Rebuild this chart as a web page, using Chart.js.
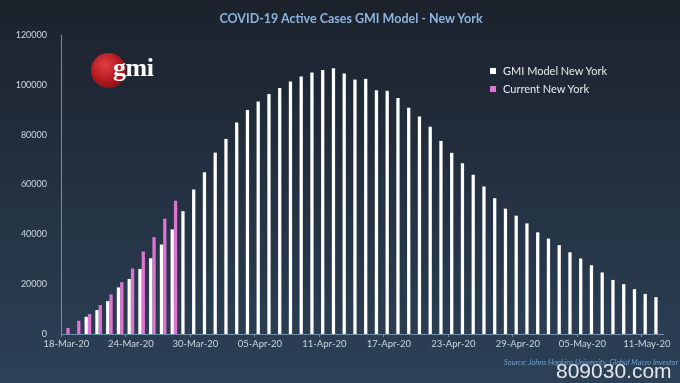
<!DOCTYPE html>
<html><head><meta charset="utf-8">
<script src="https://cdn.jsdelivr.net/npm/chart.js@4/dist/chart.umd.min.js"></script>
<style>
html,body{margin:0;padding:0;width:680px;height:383px;overflow:hidden;}
body{background:linear-gradient(to bottom,#1b222c 0%,#222e3d 40%,#2c4157 100%);font-family:Lato,"Open Sans",sans-serif;position:relative;}
#wrap{position:absolute;left:0;top:0;width:680px;height:383px;}
#title{position:absolute;left:11px;width:680px;top:11px;text-align:center;color:#8db4de;font:bold 12.5px Lato,sans-serif;}
.leg{position:absolute;left:490px;color:#e6ebf0;font:11px Lato,sans-serif;white-space:nowrap;}
.leg span{display:inline-block;width:6px;height:6px;margin-right:7px;vertical-align:1px;}
#logo{position:absolute;left:91px;top:53px;width:35px;height:35px;border-radius:50%;background:radial-gradient(circle at 40% 35%,#e04044 0%,#b81c22 45%,#6e0a0e 100%);}
#gmi{position:absolute;left:113px;top:53px;color:#fff;font:bold 26px "Liberation Serif",serif;letter-spacing:-0.5px;}
#src{position:absolute;left:504px;top:358px;color:#6f9fd3;font:italic 7.5px Lato,sans-serif;white-space:nowrap;}
#wm{position:absolute;left:556px;top:359px;color:rgba(240,244,248,0.93);font:21px "Liberation Sans",Arial,sans-serif;white-space:nowrap;}
</style></head>
<body>
<div id="wrap"><canvas id="c" width="680" height="383"></canvas></div>
<div id="title">COVID-19 Active Cases GMI Model - New York</div>
<div id="logo"></div><div id="gmi">gmi</div>
<div class="leg" style="top:64px"><span style="background:#ffffff"></span>GMI Model New York</div>
<div class="leg" style="top:82px"><span style="background:#df74d2"></span>Current New York</div>
<div id="src">Source: Johns Hopkins University, Global Macro Investor</div>
<div id="wm">809030.com</div>
<script>
const categories = [
 "18-Mar-20","19-Mar-20","20-Mar-20","21-Mar-20","22-Mar-20","23-Mar-20","24-Mar-20","25-Mar-20","26-Mar-20","27-Mar-20",
 "28-Mar-20","29-Mar-20","30-Mar-20","31-Mar-20","01-Apr-20","02-Apr-20","03-Apr-20","04-Apr-20","05-Apr-20","06-Apr-20",
 "07-Apr-20","08-Apr-20","09-Apr-20","10-Apr-20","11-Apr-20","12-Apr-20","13-Apr-20","14-Apr-20","15-Apr-20","16-Apr-20",
 "17-Apr-20","18-Apr-20","19-Apr-20","20-Apr-20","21-Apr-20","22-Apr-20","23-Apr-20","24-Apr-20","25-Apr-20","26-Apr-20",
 "27-Apr-20","28-Apr-20","29-Apr-20","30-Apr-20","01-May-20","02-May-20","03-May-20","04-May-20","05-May-20","06-May-20",
 "07-May-20","08-May-20","09-May-20","10-May-20","11-May-20","12-May-20"
];
const gmiModel = [
 null,null,6900,9600,13200,18700,22100,26100,30400,35900,
 42000,49300,58000,64900,72800,78300,84900,89900,93300,96300,
 98700,101300,103300,104900,106000,106700,104500,102100,102400,97800,
 97600,94700,90800,87300,83200,77500,72700,68500,63900,59200,
 54500,50300,47500,44400,40800,38300,35700,32800,30300,27600,
 24700,21700,20000,18000,16100,14800
];
const currentNY = [2400,5300,8000,11600,15900,20800,26300,33100,38900,46300,53500];
const yTicks = [0,20000,40000,60000,80000,100000,120000];
const labelEvery = 6;

new Chart(document.getElementById('c'), {
  type: 'bar',
  data: {
    labels: categories,
    datasets: [
      {label:'GMI Model New York', data: gmiModel, backgroundColor:'#ffffff', categoryPercentage:0.62, barPercentage:0.98},
      {label:'Current New York', data: currentNY, backgroundColor:'#df74d2', categoryPercentage:0.62, barPercentage:0.98}
    ]
  },
  options: {
    responsive:false, animation:false,
    layout:{padding:{left:0,right:17,top:35,bottom:29}},
    plugins:{legend:{display:false}, title:{display:false}, tooltip:{enabled:false}},
    scales:{
      x:{
        offset:true,
        grid:{display:true, drawOnChartArea:false, offset:true, tickLength:3,
              color:(ctx)=> (ctx.index % labelEvery === 0 ? '#6f8fb0' : 'rgba(0,0,0,0)')},
        border:{display:true,color:'#6f8fb0',width:1},
        ticks:{autoSkip:false, maxRotation:0, minRotation:0, color:'#cdd5de', font:{family:'Lato',size:9.5}, padding:1,
               callback:function(v,i){return i % labelEvery === 0 ? categories[i] : '';}},
        afterFit:(s)=>{s.height=20;}
      },
      y:{
        min:0, max:120000,
        afterBuildTicks:(s)=>{s.ticks = yTicks.map(v=>({value:v}));},
        grid:{display:false},
        border:{display:true,color:'#6f8fb0',width:1},
        ticks:{color:'#cdd5de', font:{family:'Lato',size:9}, padding:6, callback:(v)=>String(v)},
        afterFit:(s)=>{s.width=61;}
      }
    }
  }
});
</script>
</body></html>
